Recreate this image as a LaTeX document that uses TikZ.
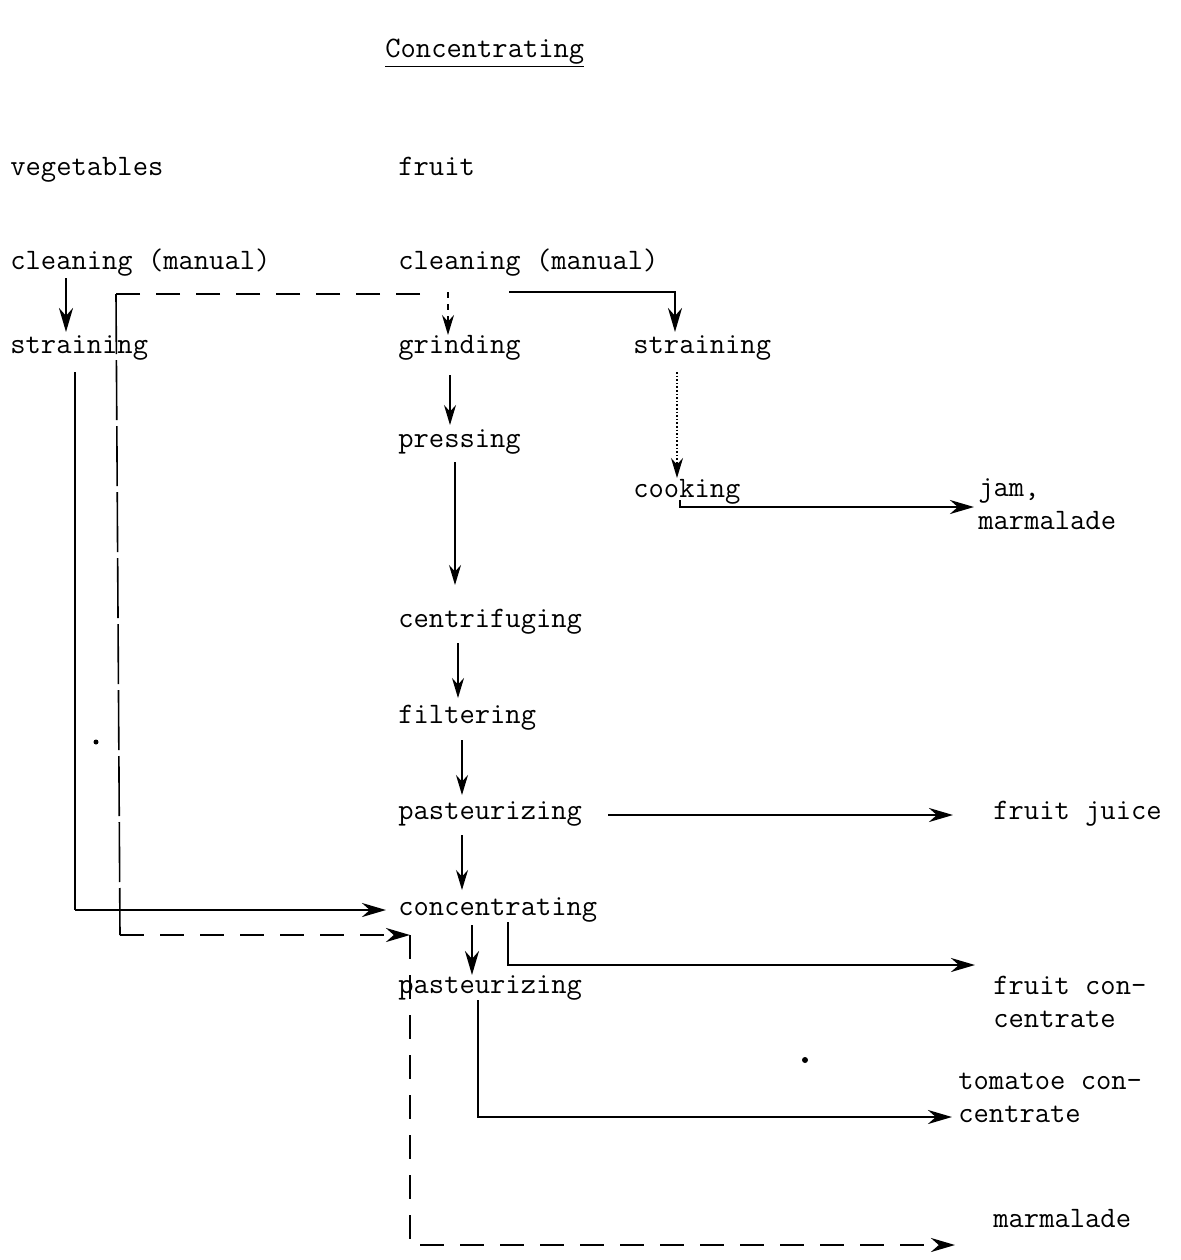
\documentclass[tikz,border=0pt]{standalone}
\usepackage{tikz}
\usetikzlibrary{arrows.meta,calc}

\begin{document}
\begin{tikzpicture}[
  x=0.5pt,y=-0.5pt,
  step label/.style={anchor=base west, inner sep=0pt, align=left,
    font=\fontsize{14.85}{16.5}\selectfont\ttfamily},
  flow/.style={-{Stealth[length=12pt,width=7pt]}, line width=1.3pt},
  thin flow/.style={-{Stealth[length=10pt,width=6pt]}, line width=0.8pt},
  route/.style={line width=1.3pt, dash pattern=on 12pt off 8pt},
  >={Stealth[length=12pt,width=7pt]}
]
\useasboundingbox (0,0) rectangle (1181,1260);

\node[step label] (title) at (385,57) {\underline{Concentrating}};
\node[step label] (veg) at (10,175) {vegetables};
\node[step label] (fruit) at (398,175) {fruit};
\node[step label] (vclean) at (10,269) {cleaning (manual)};
\node[step label] (fclean) at (398,269) {cleaning (manual)};
\node[step label] (vstrain) at (10,353) {straining};
\node[step label] (grind) at (398,353) {grinding};
\node[step label] (fstrain) at (633,353) {straining};
\node[step label] (press) at (398,447) {pressing};
\node[step label] (cook) at (633,497) {cooking};
\node[step label] (jam) at (978,529) {jam,\\marmalade};
\node[step label] (centri) at (398,627) {centrifuging};
\node[step label] (filter) at (398,723) {filtering};
\node[step label] (past) at (398,819) {pasteurizing};
\node[step label] (juice) at (993,819) {fruit juice};
\node[step label] (conc) at (398,915) {concentrating};
\node[step label] (past2) at (398,993) {pasteurizing};
\node[step label] (fconc) at (993,1027) {fruit con-\\centrate};
\node[step label] (tconc) at (958,1122) {tomatoe con-\\centrate};
\node[step label] (marm) at (993,1227) {marmalade};

\coordinate (splitL) at (116,294);
\coordinate (splitB) at (120,935);
\coordinate (dropT) at (410,935);
\coordinate (dropB) at (410,1245);

% vegetables
\draw[flow] ($(vclean.base west)+(56,9)$) -- ($(vstrain.base west)+(56,-21)$);
\draw[line width=0.8pt] ($(vstrain.base west)+(65,19)$) -- ($(vstrain.base west)+(65,557)$);
\draw[flow] ($(vstrain.base west)+(65,557)$) -- ($(conc.base west)+(-12,-5)$);
\draw[route] ($(fclean.base west)+(22,25)$) -- (splitL);
\draw[line width=0.8pt, dash pattern=on 30pt off 3pt] (splitL) -- (splitB);
\draw[route,->] (splitB) -- (dropT);
\draw[route,->] (dropT) -- (dropB) -- ($(marm.base west)+(-38,18)$);

% fruit
\draw[thin flow, dashed] ($(fclean.base west)+(50,23)$) -- ($(grind.base west)+(50,-18)$);
\draw[flow] ($(fclean.base west)+(111,23)$) -| ($(fstrain.base west)+(42,-21)$);
\draw[thin flow] ($(grind.base west)+(52,22)$) -- ($(press.base west)+(52,-22)$);
\draw[thin flow] ($(press.base west)+(57,15)$) -- ($(centri.base west)+(57,-42)$);
\draw[thin flow] ($(centri.base west)+(60,16)$) -- ($(filter.base west)+(60,-25)$);
\draw[thin flow] ($(filter.base west)+(64,17)$) -- ($(past.base west)+(64,-24)$);
\draw[thin flow] ($(past.base west)+(64,16)$) -- ($(conc.base west)+(64,-25)$);
\draw[flow] ($(conc.base west)+(74,10)$) -- ($(past2.base west)+(74,-18)$);
\draw[flow] ($(conc.base west)+(110,7)$) |- ($(fconc.base west)+(-18,-62)$);
\draw[flow] ($(past2.base west)+(80,7)$) |- ($(tconc.base west)+(-6,-5)$);
\draw[thin flow, densely dotted] ($(fstrain.base west)+(44,19)$) -- ($(cook.base west)+(44,-19)$);
\draw[flow] ($(cook.base west)+(47,3)$) |- ($(jam.base west)+(-4,-22)$);
\draw[flow] ($(past.base west)+(210,-4)$) -- ($(juice.base west)+(-40,-4)$);

\fill (96,742) circle (2.5);
\fill (805,1060) circle (3);
\end{tikzpicture}
\end{document}
